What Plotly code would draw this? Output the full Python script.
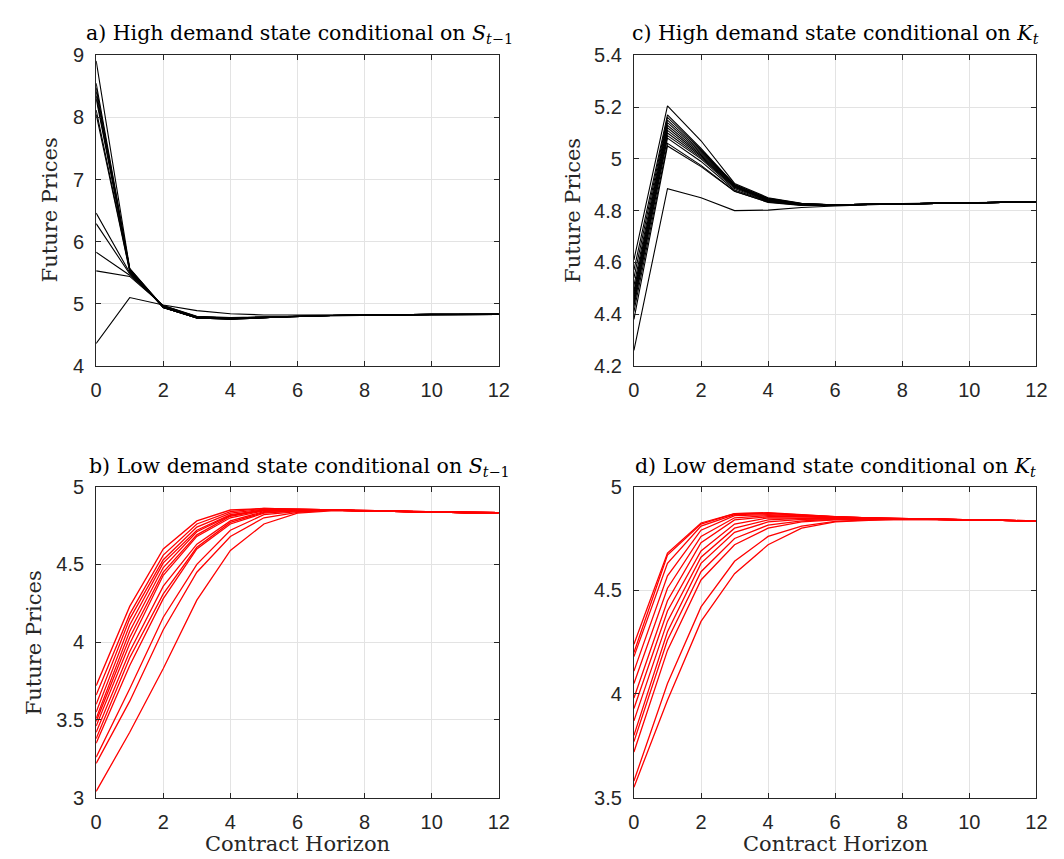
import plotly.graph_objects as go

horizon = list(range(13))

# a) High demand state conditional on S_{t-1}
high_s_lines = [
    [8.91, 5.57, 4.95, 4.78, 4.76, 4.78, 4.80, 4.81, 4.82, 4.82, 4.83, 4.83, 4.83],
    [8.55, 5.56, 4.95, 4.78, 4.76, 4.78, 4.80, 4.81, 4.82, 4.82, 4.83, 4.83, 4.83],
    [8.48, 5.56, 4.94, 4.77, 4.76, 4.78, 4.80, 4.81, 4.82, 4.82, 4.83, 4.83, 4.83],
    [8.42, 5.55, 4.94, 4.77, 4.75, 4.78, 4.80, 4.81, 4.82, 4.82, 4.83, 4.83, 4.83],
    [8.35, 5.55, 4.94, 4.77, 4.75, 4.78, 4.80, 4.81, 4.82, 4.82, 4.83, 4.83, 4.83],
    [8.30, 5.54, 4.94, 4.77, 4.75, 4.78, 4.80, 4.81, 4.82, 4.82, 4.83, 4.83, 4.83],
    [8.12, 5.53, 4.94, 4.77, 4.76, 4.78, 4.80, 4.81, 4.82, 4.82, 4.83, 4.83, 4.83],
    [8.05, 5.52, 4.94, 4.78, 4.76, 4.78, 4.80, 4.81, 4.82, 4.82, 4.83, 4.83, 4.83],
    [6.46, 5.50, 4.96, 4.79, 4.77, 4.79, 4.80, 4.81, 4.82, 4.82, 4.83, 4.83, 4.83],
    [6.29, 5.48, 4.96, 4.79, 4.77, 4.79, 4.80, 4.81, 4.82, 4.82, 4.83, 4.83, 4.83],
    [5.83, 5.46, 4.97, 4.79, 4.77, 4.79, 4.80, 4.81, 4.82, 4.82, 4.83, 4.83, 4.83],
    [5.53, 5.44, 4.97, 4.80, 4.78, 4.79, 4.80, 4.81, 4.82, 4.82, 4.83, 4.83, 4.83],
    [4.36, 5.10, 4.98, 4.89, 4.84, 4.82, 4.82, 4.82, 4.82, 4.82, 4.83, 4.83, 4.83],
]

# c) High demand state conditional on K_t
high_k_lines = [
    [4.61, 5.205, 5.07, 4.905, 4.850, 4.828, 4.822, 4.824, 4.827, 4.829, 4.831, 4.833, 4.834],
    [4.57, 5.170, 5.04, 4.900, 4.848, 4.827, 4.822, 4.824, 4.827, 4.829, 4.831, 4.833, 4.834],
    [4.54, 5.160, 5.035, 4.900, 4.846, 4.826, 4.822, 4.824, 4.827, 4.829, 4.831, 4.833, 4.834],
    [4.51, 5.150, 5.03, 4.900, 4.845, 4.826, 4.822, 4.824, 4.827, 4.829, 4.831, 4.833, 4.834],
    [4.49, 5.140, 5.025, 4.898, 4.843, 4.825, 4.822, 4.824, 4.827, 4.829, 4.831, 4.833, 4.834],
    [4.48, 5.130, 5.02, 4.895, 4.842, 4.825, 4.822, 4.824, 4.827, 4.829, 4.831, 4.833, 4.834],
    [4.47, 5.120, 5.015, 4.893, 4.840, 4.824, 4.822, 4.824, 4.827, 4.829, 4.831, 4.833, 4.834],
    [4.46, 5.110, 5.01, 4.890, 4.840, 4.824, 4.822, 4.824, 4.827, 4.829, 4.831, 4.833, 4.834],
    [4.45, 5.100, 5.005, 4.890, 4.838, 4.823, 4.822, 4.824, 4.827, 4.829, 4.831, 4.833, 4.834],
    [4.44, 5.090, 5.00, 4.885, 4.836, 4.822, 4.822, 4.824, 4.827, 4.829, 4.831, 4.833, 4.834],
    [4.43, 5.080, 4.99, 4.880, 4.835, 4.822, 4.822, 4.824, 4.827, 4.829, 4.831, 4.833, 4.834],
    [4.41, 5.060, 4.975, 4.875, 4.833, 4.821, 4.822, 4.824, 4.827, 4.829, 4.831, 4.833, 4.834],
    [4.38, 5.050, 4.97, 4.875, 4.832, 4.820, 4.822, 4.824, 4.827, 4.829, 4.831, 4.833, 4.834],
    [4.26, 4.885, 4.85, 4.800, 4.802, 4.812, 4.818, 4.823, 4.827, 4.829, 4.831, 4.833, 4.834],
]

# b) Low demand state conditional on S_{t-1}
low_s_lines = [
    [3.72, 4.23, 4.60, 4.78, 4.850, 4.860, 4.855, 4.85, 4.845, 4.84, 4.837, 4.834, 4.833],
    [3.66, 4.18, 4.56, 4.76, 4.840, 4.860, 4.855, 4.85, 4.845, 4.84, 4.837, 4.834, 4.833],
    [3.60, 4.15, 4.53, 4.74, 4.830, 4.855, 4.855, 4.85, 4.845, 4.84, 4.837, 4.834, 4.833],
    [3.55, 4.11, 4.51, 4.72, 4.820, 4.850, 4.850, 4.85, 4.845, 4.84, 4.837, 4.834, 4.833],
    [3.51, 4.07, 4.48, 4.71, 4.815, 4.850, 4.850, 4.85, 4.845, 4.84, 4.837, 4.834, 4.833],
    [3.49, 4.03, 4.45, 4.69, 4.810, 4.850, 4.850, 4.85, 4.845, 4.84, 4.837, 4.834, 4.833],
    [3.46, 3.99, 4.43, 4.68, 4.800, 4.845, 4.850, 4.85, 4.845, 4.84, 4.837, 4.834, 4.833],
    [3.42, 3.94, 4.36, 4.63, 4.780, 4.840, 4.850, 4.85, 4.845, 4.84, 4.837, 4.834, 4.833],
    [3.38, 3.90, 4.31, 4.61, 4.770, 4.835, 4.845, 4.85, 4.845, 4.84, 4.837, 4.834, 4.833],
    [3.35, 3.85, 4.28, 4.60, 4.760, 4.830, 4.845, 4.85, 4.845, 4.84, 4.837, 4.834, 4.833],
    [3.26, 3.70, 4.16, 4.50, 4.720, 4.820, 4.840, 4.85, 4.845, 4.84, 4.837, 4.834, 4.833],
    [3.22, 3.62, 4.08, 4.45, 4.680, 4.800, 4.835, 4.85, 4.845, 4.84, 4.837, 4.834, 4.833],
    [3.04, 3.42, 3.83, 4.27, 4.590, 4.760, 4.830, 4.845, 4.845, 4.84, 4.837, 4.834, 4.833],
]

# d) Low demand state conditional on K_t
low_k_lines = [
    [4.24, 4.68, 4.825, 4.870, 4.875, 4.865, 4.855, 4.850, 4.845, 4.843, 4.840, 4.838, 4.835],
    [4.20, 4.67, 4.820, 4.870, 4.873, 4.864, 4.855, 4.850, 4.845, 4.843, 4.840, 4.838, 4.835],
    [4.18, 4.63, 4.810, 4.865, 4.870, 4.862, 4.854, 4.850, 4.845, 4.843, 4.840, 4.838, 4.835],
    [4.11, 4.57, 4.790, 4.860, 4.865, 4.860, 4.853, 4.849, 4.845, 4.843, 4.840, 4.838, 4.835],
    [4.05, 4.51, 4.760, 4.850, 4.860, 4.858, 4.852, 4.849, 4.845, 4.843, 4.840, 4.838, 4.835],
    [3.98, 4.45, 4.730, 4.840, 4.855, 4.855, 4.850, 4.848, 4.845, 4.843, 4.840, 4.838, 4.835],
    [3.93, 4.40, 4.690, 4.820, 4.850, 4.850, 4.848, 4.847, 4.845, 4.843, 4.840, 4.838, 4.835],
    [3.87, 4.35, 4.660, 4.800, 4.840, 4.847, 4.846, 4.846, 4.845, 4.843, 4.840, 4.838, 4.835],
    [3.80, 4.30, 4.630, 4.780, 4.830, 4.842, 4.844, 4.845, 4.845, 4.843, 4.840, 4.838, 4.835],
    [3.77, 4.26, 4.590, 4.750, 4.815, 4.835, 4.842, 4.844, 4.844, 4.843, 4.840, 4.838, 4.835],
    [3.72, 4.21, 4.550, 4.720, 4.800, 4.830, 4.840, 4.843, 4.844, 4.843, 4.840, 4.838, 4.835],
    [3.58, 4.05, 4.420, 4.640, 4.760, 4.810, 4.833, 4.840, 4.843, 4.842, 4.840, 4.838, 4.835],
    [3.55, 3.97, 4.350, 4.580, 4.720, 4.800, 4.830, 4.838, 4.842, 4.842, 4.840, 4.838, 4.835],
]

x_ticks = [0, 2, 4, 6, 8, 10, 12]
y_ticks_a = [4, 5, 6, 7, 8, 9]
y_ticks_c = [4.2, 4.4, 4.6, 4.8, 5.0, 5.2, 5.4]
y_ticks_c_text = ["4.2", "4.4", "4.6", "4.8", "5", "5.2", "5.4"]
y_ticks_b = [3, 3.5, 4, 4.5, 5]
y_ticks_d = [3.5, 4, 4.5, 5]

titles = [
    "a) High demand state conditional on <i>S</i><sub><i>t</i>\u22121</sub>",
    "c) High demand state conditional on <i>K</i><sub><i>t</i></sub>",
    "b) Low demand state conditional on <i>S</i><sub><i>t</i>\u22121</sub>",
    "d) Low demand state conditional on <i>K</i><sub><i>t</i></sub>",
]

W, H = 1064, 859
def px_x(p):
    return p / W
def px_y(p):
    return 1 - p / H

# panel geometry in pixels: (left, right, top, bottom)
boxes = {
    "a": (83.5, 492.7, 37.3, 356.0),
    "c": (630.0, 1039.0, 37.3, 356.0),
    "b": (83.5, 492.7, 480.0, 799.0),
    "d": (630.0, 1039.0, 480.0, 799.0),
}

fig = go.Figure()

panels = [
    ("a", "x", "y", high_s_lines, "black", 1.1),
    ("c", "x2", "y2", high_k_lines, "black", 1.1),
    ("b", "x3", "y3", low_s_lines, "#ff0000", 1.3),
    ("d", "x4", "y4", low_k_lines, "#ff0000", 1.3),
]
for key, xa, ya, lines, color, lw in panels:
    for series in lines:
        fig.add_trace(go.Scatter(x=horizon, y=series, mode="lines", xaxis=xa, yaxis=ya,
                                 line=dict(color=color, width=lw), showlegend=False,
                                 hoverinfo="skip"))

tick_font = dict(family="Liberation Sans, Arial, sans-serif", size=20, color="#262626")
axis_common = dict(showline=True, linecolor="#262626", linewidth=1, mirror="ticks",
                   ticks="inside", ticklen=5, tickcolor="#262626", tickwidth=1,
                   showgrid=True, gridcolor="#e3e3e3", gridwidth=1, zeroline=False,
                   tickfont=tick_font)

yranges = {"a": (4, 9, y_ticks_a, [str(v) for v in y_ticks_a]),
           "c": (4.2, 5.4, y_ticks_c, y_ticks_c_text),
           "b": (3, 5, y_ticks_b, ["3", "3.5", "4", "4.5", "5"]),
           "d": (3.5, 5, y_ticks_d, ["3.5", "4", "4.5", "5"])}

axis_names = {"a": ("xaxis", "yaxis", "x", "y"), "c": ("xaxis2", "yaxis2", "x2", "y2"),
              "b": ("xaxis3", "yaxis3", "x3", "y3"), "d": ("xaxis4", "yaxis4", "x4", "y4")}

layout_axes = {}
for key, (l, r, t, b) in boxes.items():
    xn, yn, xr, yr = axis_names[key]
    y0, y1, tv, tt = yranges[key]
    layout_axes[xn] = dict(axis_common, domain=[px_x(l), px_x(r)], range=[0, 12],
                           tickvals=x_ticks, ticktext=[str(v) for v in x_ticks],
                           anchor=yr, ticklabelstandoff=6)
    layout_axes[yn] = dict(axis_common, domain=[px_y(b), px_y(t)], range=[y0, y1],
                           tickvals=tv, ticktext=tt, anchor=xr, ticklabelstandoff=7)

fig.update_layout(**layout_axes)

serif = "DejaVu Serif, Liberation Serif, serif"
annotations = []
title_pos = {"a": 15, "c": 15, "b": 460, "d": 460}
title_shift = {"a": 2, "c": 0, "b": 2, "d": 0}
for (key, _, _, _, _, _), txt in zip(panels, titles):
    l, r, t, b = boxes[key]
    annotations.append(dict(text=txt, x=px_x((l + r) / 2 + title_shift[key]),
                            y=px_y(title_pos[key]),
                            xref="paper", yref="paper", showarrow=False,
                            xanchor="center", yanchor="middle",
                            font=dict(family=serif, size=20.5, color="black")))

ylabel_pos = [(37, 196), (568, 196), (20, 640)]
for xp, yp in ylabel_pos:
    annotations.append(dict(text="Future Prices", x=px_x(xp), y=px_y(yp), xref="paper",
                            yref="paper", showarrow=False, textangle=-90,
                            xanchor="center", yanchor="middle",
                            font=dict(family=serif, size=21, color="#262626")))
for xp in [(83.5 + 492.7) / 2, (630 + 1039) / 2]:
    annotations.append(dict(text="Contract Horizon", x=px_x(xp), y=px_y(847), xref="paper",
                            yref="paper", showarrow=False, xanchor="center",
                            yanchor="middle",
                            font=dict(family=serif, size=21, color="#262626")))

fig.update_layout(width=W, height=H, margin=dict(l=0, r=0, t=0, b=0),
                  paper_bgcolor="white", plot_bgcolor="white",
                  annotations=annotations)

fig.write_html("out.html")
